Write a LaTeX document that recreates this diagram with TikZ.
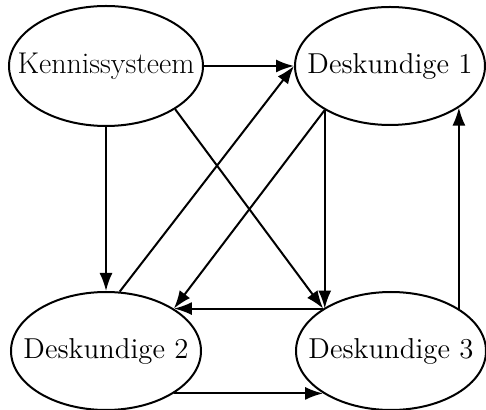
\documentclass[tikz,border=0pt]{standalone}
\usepackage{tikz}
\usetikzlibrary{shapes.geometric,arrows.meta}
\tikzset{
	party/.style      = {shape=ellipse, draw, inner sep=0pt,
		minimum width=95pt, minimum height=59pt, font=\Large},
	kbase/.style      = {party, minimum width=97pt, minimum height=60pt,
		font=\fontsize{15}{18}\selectfont},
	deskundige/.style = {party}
}
\newcommand{\lbl}[1]{\makebox[0pt][c]{#1}}

\begin{document}
\begin{tikzpicture}
[
x = 0.5pt, y = -0.5pt,
line width = 1pt,
flow/.style = {draw, -{Latex[length=9pt,width=6.5pt]}}
]
\useasboundingbox (0,0) rectangle (486,410);
\node [kbase]      (ks) at (106,66)  {\lbl{Kennissysteem}};
\node [deskundige] (d1) at (390,66)  {\lbl{Deskundige 1}};
\node [deskundige] (d2) at (106,351) {\lbl{Deskundige 2}};
\node [deskundige] (d3) at (391,351) {\lbl{Deskundige 3}};
% from the knowledge system
\draw [flow] (ks.east)  -- (d1.west);
\draw [flow] (ks.south) -- (d2.north);
\draw [flow] (ks.-32)   -- (d3.148);
% between the experts
\draw [flow] (d2.77)    -- (d1.west);
\draw [flow] (d1.214)   -- (d2.32);
\draw [flow] (d1.214)   -- (d1.214 |- d3.148);
\draw [flow] (d3.148)   -- (d2.32);
\draw [flow] (d2.-32)   -- (d3.-148);
\draw [flow] (d3.32)    -- (d3.32 |- d1.-31);
\end{tikzpicture}
\end{document}
